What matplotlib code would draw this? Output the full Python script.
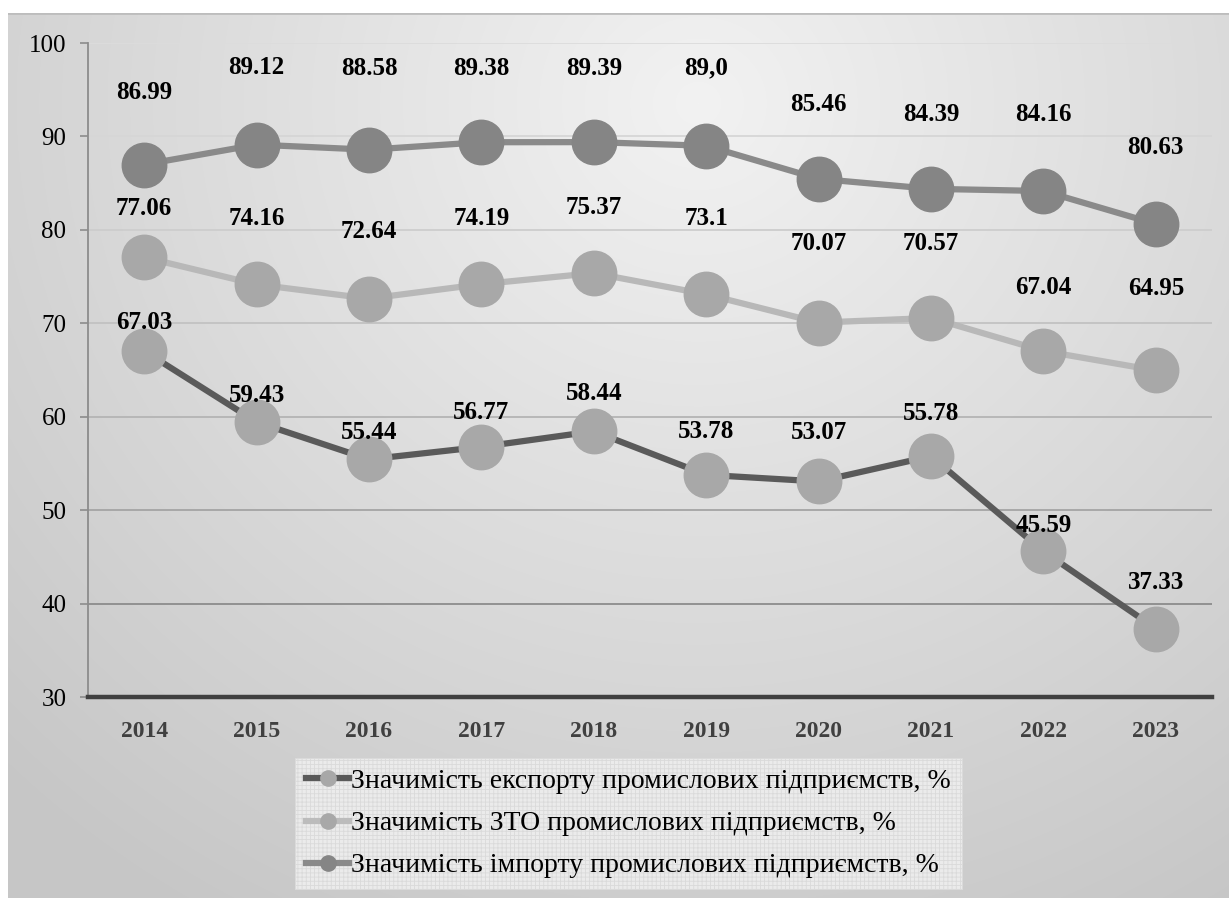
import os
import numpy as np
import matplotlib
matplotlib.use("Agg")
import matplotlib.pyplot as plt
from matplotlib.lines import Line2D
from matplotlib import font_manager as fm

plt.rcParams['hatch.linewidth'] = 0.6

# Times-like serif: load the files directly
reg_path = fm.findfont(fm.FontProperties(family='Liberation Serif'))
bold_path = os.path.join(os.path.dirname(reg_path), 'LiberationSerif-Bold.ttf')
if not os.path.exists(bold_path):
    bold_path = fm.findfont(fm.FontProperties(family='Liberation Serif', weight='bold'))


def fp(size, bold=False):
    return fm.FontProperties(fname=bold_path if bold else reg_path, size=size)


years = ['2014', '2015', '2016', '2017', '2018', '2019', '2020', '2021', '2022', '2023']
export_vals = [67.03, 59.43, 55.44, 56.77, 58.44, 53.78, 53.07, 55.78, 45.59, 37.33]
zto_vals = [77.06, 74.16, 72.64, 74.19, 75.37, 73.1, 70.07, 70.57, 67.04, 64.95]
import_vals = [86.99, 89.12, 88.58, 89.38, 89.39, 89.0, 85.46, 84.39, 84.16, 80.63]
import_text = ['86.99', '89.12', '88.58', '89.38', '89.39', '89,0', '85.46', '84.39', '84.16', '80.63']
series_names = ['Значимість експорту промислових підприємств, %',
                'Значимість ЗТО промислових підприємств, %',
                'Значимість імпорту промислових підприємств, %']

# label offsets above the points, in pixels
export_off = [29, 27, 27, 34, 38, 43, 49, 43, 26, 46]
zto_off = [49, 66, 67, 66, 66, 76, 79, 74, 63, 82]
import_off = [72, 77, 81, 74, 74, 78, 74, 74, 76, 76]

W, H = 1229, 898
fig = plt.figure(figsize=(W / 100, H / 100), dpi=100)
fig.patch.set_facecolor('white')

# gradient background panel
bg = fig.add_axes([8 / W, 0, 1 - 8 / W, 1 - 13 / H], zorder=-2)
gy, gx = np.mgrid[0:885, 0:1221]
d = np.sqrt((gx - 690) ** 2 + ((gy - 90) * 1.05) ** 2)
g = 242 - 44 * np.clip(d / 1000, 0, 1)
img = np.dstack([g, g, g]) / 255.0
bg.imshow(img, aspect='auto', extent=[0, 1, 0, 1])
bg.axhline(1, color='#bdbdbd', lw=2)
bg.axis('off')

ax = fig.add_axes([88 / W, 1 - 697 / H, (1212 - 88) / W, (697 - 43) / H])
ax.set_facecolor('none')
x = np.arange(len(years))

grid_cols = {40: '#8c8c8c', 50: '#a4a4a4', 60: '#b4b4b4', 70: '#c2c2c2',
             80: '#cdcdcd', 90: '#d6d6d6', 100: '#dcdcdc'}
for v, c in grid_cols.items():
    ax.axhline(v, color=c, lw=1.3, zorder=0)

ax.plot(x, import_vals, color='#8a8a8a', lw=4.5, marker='o', ms=32,
        mfc='#858585', mec='#858585', zorder=3)
ax.plot(x, zto_vals, color='#b8b8b8', lw=4.5, marker='o', ms=32,
        mfc='#a8a8a8', mec='#a8a8a8', zorder=3)
ax.plot(x, export_vals, color='#5a5a5a', lw=4.5, marker='o', ms=32,
        mfc='#a8a8a8', mec='#a8a8a8', zorder=4)

for vals, offs, texts in [(export_vals, export_off, None), (zto_vals, zto_off, None),
                          (import_vals, import_off, import_text)]:
    for i, v in enumerate(vals):
        t = texts[i] if texts else ('%g' % v)
        ax.annotate(t, (x[i], v), xytext=(0, offs[i] * 0.72), textcoords='offset points',
                    ha='center', va='center', fontproperties=fp(18, True), color='black',
                    zorder=6)

ax.set_xlim(-0.5, len(years) - 0.5)
ax.set_ylim(30, 100)
ax.set_yticks(range(30, 101, 10))
ax.set_yticklabels([str(v) for v in range(30, 101, 10)], fontproperties=fp(18))
ax.set_xticks(x)
ax.set_xticklabels(years, fontproperties=fp(17, True), color='#404040')
ax.tick_params(axis='x', length=0, pad=17)
ax.tick_params(axis='y', length=6, width=1.2, color='#8c8c8c', pad=9.5, labelcolor='black')
for s in ['top', 'right']:
    ax.spines[s].set_visible(False)
ax.spines['left'].set_color('#8c8c8c')
ax.spines['left'].set_linewidth(1.3)
ax.spines['bottom'].set_color('#404040')
ax.spines['bottom'].set_linewidth(3.2)
ax.spines['bottom'].set_zorder(5)

handles = [
    Line2D([], [], color='#5a5a5a', lw=4.5, marker='o', ms=11, mfc='#a8a8a8', mec='#a8a8a8'),
    Line2D([], [], color='#bcbcbc', lw=4.5, marker='o', ms=11, mfc='#a8a8a8', mec='#a8a8a8'),
    Line2D([], [], color='#8a8a8a', lw=4.5, marker='o', ms=11, mfc='#858585', mec='#858585'),
]
leg = fig.legend(handles, series_names, loc='center',
                 bbox_to_anchor=(628.5 / W, 1 - 823.5 / H), prop=fp(20),
                 handlelength=1.55, handletextpad=0.05, labelspacing=0.6,
                 borderpad=0.4, fancybox=False, framealpha=1, borderaxespad=0)
fr = leg.get_frame()
fr.set_facecolor('#ebebeb')
fr.set_edgecolor('#dadada')
fr.set_hatch('++++')
fr.set_linewidth(0.8)

fig.savefig('out.png', dpi=100)
